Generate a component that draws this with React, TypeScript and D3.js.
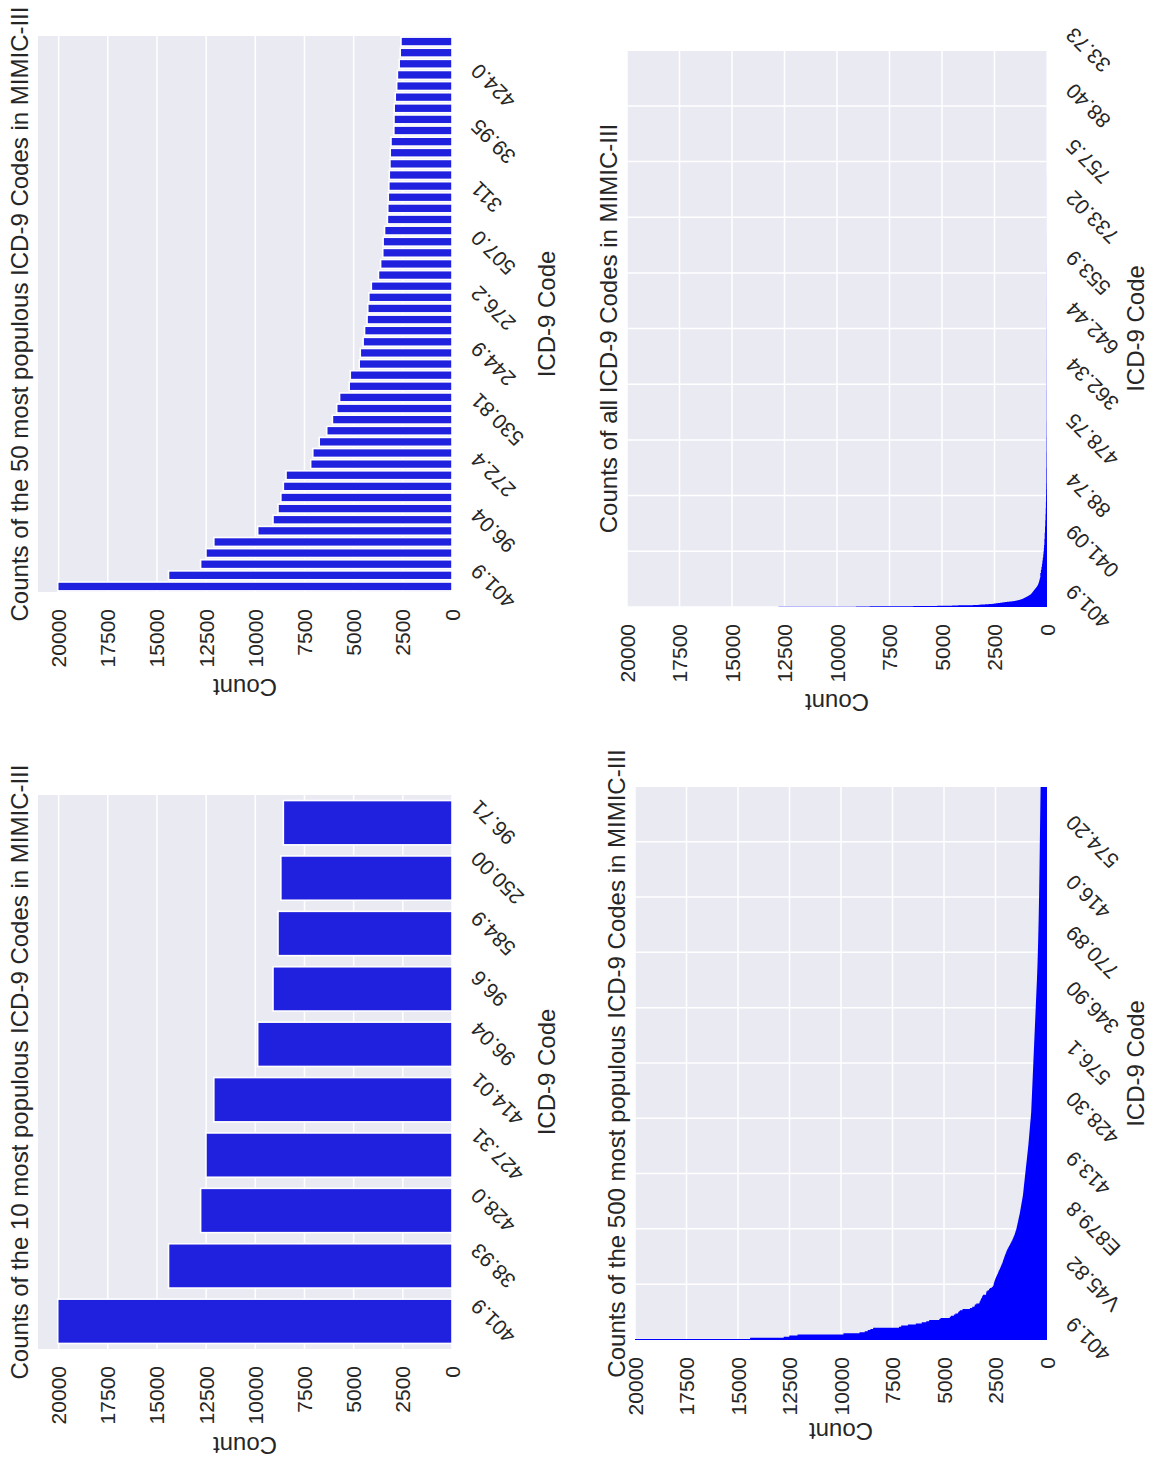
import React, { useRef, useEffect } from 'react';
import * as d3 from 'd3';

// ---- data ----
// 50 most frequent codes (only every 5th one is labelled on the chart)
const top50Codes = [
  '401.9', '38.93', '428.0', '427.31', '414.01', '96.04', '96.6', '584.9', '250.00', '96.71',
  '272.4', '518.81', '99.04', '599.0', '38.91', '530.81', '272.0', 'V05.3', 'V29.0', '285.9',
  '244.9', '88.56', '486', '99.15', '285.1', '276.2', '496', 'V58.61', '995.92', '96.72',
  '507.0', '038.9', '88.72', '403.90', 'V15.82', '311', '585.9', '305.1', '412', '287.5',
  '39.95', '410.71', '276.0', 'V45.81', '511.9', '424.0', '427.89', 'V30.00', '39.61', '99.55',
];
const top50Counts = [
  20046, 14413, 12781, 12509, 12110, 9880, 9101, 8847, 8702, 8575,
  8439, 7187, 7078, 6751, 6370, 6080, 5862, 5717, 5227, 5172,
  4719, 4664, 4519, 4446, 4319, 4283, 4229, 4102, 3739, 3630,
  3521, 3503, 3430, 3285, 3267, 3240, 3212, 3190, 3158, 3140,
  3103, 2958, 2950, 2940, 2886, 2813, 2777, 2686, 2632, 2595,
];
// ranks 51..500
const rank51to500Counts = [
  2590, 2575, 2560, 2541, 2522, 2500, 2478, 2455, 2430, 2406, 2380, 2361, 2339, 2310, 2284, 2260, 2241, 2220, 2196, 2172, 2150, 2133, 2118, 2097, 2079,
  2060, 2043, 2021, 1999, 1980, 1960, 1934, 1905, 1876, 1848, 1820, 1793, 1766, 1737, 1708, 1680, 1659, 1637, 1614, 1592, 1570, 1553, 1536, 1519, 1502,
  1486, 1474, 1461, 1450, 1438, 1426, 1414, 1403, 1391, 1380, 1368, 1357, 1345, 1333, 1322, 1311, 1302, 1293, 1284, 1274, 1265, 1255, 1246, 1237, 1228,
  1219, 1210, 1199, 1190, 1181, 1171, 1165, 1159, 1153, 1147, 1141, 1136, 1130, 1124, 1119, 1113, 1107, 1101, 1095, 1090, 1084, 1078, 1072, 1066, 1061,
  1055, 1049, 1043, 1037, 1032, 1026, 1020, 1014, 1008, 1002, 996, 990, 984, 978, 973, 967, 961, 955, 950, 944, 938, 932, 927, 921, 915,
  909, 904, 900, 895, 890, 886, 881, 876, 872, 867, 862, 858, 853, 848, 844, 839, 834, 830, 825, 820, 816, 811, 806, 802, 797,
  792, 788, 783, 778, 774, 769, 767, 764, 762, 760, 757, 755, 753, 750, 748, 746, 743, 741, 739, 736, 734, 732, 729, 727, 725,
  722, 720, 718, 715, 713, 711, 708, 706, 704, 701, 699, 697, 694, 692, 690, 687, 685, 683, 680, 678, 676, 673, 671, 669, 666,
  664, 662, 659, 657, 655, 652, 650, 648, 645, 643, 641, 638, 636, 634, 631, 629, 627, 624, 622, 620, 617, 615, 613, 610, 608,
  606, 603, 601, 599, 596, 594, 592, 589, 587, 585, 582, 580, 578, 575, 573, 571, 568, 566, 564, 561, 559, 557, 554, 552, 550,
  547, 545, 543, 540, 538, 536, 533, 531, 529, 526, 524, 522, 519, 517, 515, 512, 510, 508, 505, 503, 501, 498, 496, 494, 491,
  489, 487, 485, 483, 481, 479, 477, 475, 473, 471, 469, 467, 465, 463, 461, 460, 458, 457, 455, 454, 452, 451, 449, 448, 446,
  445, 443, 442, 440, 439, 437, 436, 434, 433, 431, 430, 429, 427, 426, 425, 424, 422, 421, 420, 419, 417, 416, 415, 414, 412,
  411, 410, 409, 407, 406, 405, 404, 403, 402, 401, 400, 399, 398, 397, 396, 395, 394, 393, 392, 391, 390, 389, 388, 387, 386,
  385, 384, 383, 383, 382, 381, 380, 379, 378, 378, 377, 376, 375, 374, 373, 373, 372, 371, 370, 369, 368, 368, 367, 366, 365,
  365, 364, 363, 363, 362, 361, 361, 360, 359, 358, 358, 357, 356, 356, 355, 354, 353, 353, 352, 351, 351, 350, 349, 348, 348,
  347, 347, 346, 345, 344, 344, 343, 342, 341, 341, 340, 339, 338, 338, 337, 336, 335, 334, 334, 333, 332, 331, 331, 330, 329,
  328, 328, 327, 326, 325, 325, 324, 323, 322, 322, 321, 320, 319, 319, 318, 317, 316, 316, 315, 314, 313, 313, 312, 311, 310,
];
const top500TickLabels = ['401.9', 'V45.82', 'E879.8', '413.9', '428.30', '576.1', '346.90', '770.89', '416.0', '574.20'];
// long tail after rank 500: [count, how many codes have about that count]
const tailRuns = [
  [320, 50], [290, 50], [265, 50], [240, 50], [220, 50], [200, 50], [180, 50], [165, 50], [150, 50], [140, 50],
  [125, 100], [110, 100], [95, 100], [82, 100], [70, 100], [60, 100], [52, 100], [45, 100], [40, 100], [35, 100],
  [30, 250], [24, 250], [19, 250], [15, 250],
  [12, 500], [9, 500], [7, 500], [5, 500], [4, 500], [3, 500],
  [2, 1000], [1, 1994],
];
const allTickLabels = ['401.9', '041.09', '88.74', '478.75', '362.34', '642.44', '553.9', '733.02', '757.5', '88.40', '33.73'];
const countTicks = [0, 2500, 5000, 7500, 10000, 12500, 15000, 17500, 20000];

const top10Codes = top50Codes.slice(0, 10);
const top10Counts = top50Counts.slice(0, 10);
const top500Counts = [...top50Counts, ...rank51to500Counts];
const allCounts = [...top500Counts, ...tailRuns.flatMap(([v, n]) => Array(n).fill(v))];

// ---- layout (figure drawn upright, then turned a quarter turn left) ----
const W = 1154, H = 1463;
const FONT = '"Liberation Sans", Arial, Helvetica, sans-serif';
const TEXT = '#262626';
const BG = '#eaeaf2';

const panels = [
  {
    title: 'Counts of the 10 most populous ICD-9 Codes in MIMIC-III',
    kind: 'bar', codes: top10Codes, values: top10Counts, labelEvery: 1,
    left: 114, right: 668, top: 38, bottom: 452, countGap: 88, xLabelGap: 103,
  },
  {
    title: 'Counts of the 50 most populous ICD-9 Codes in MIMIC-III',
    kind: 'bar', codes: top50Codes, values: top50Counts, labelEvery: 5,
    left: 871, right: 1427, top: 38, bottom: 452, countGap: 87, xLabelGap: 103,
  },
  {
    title: 'Counts of the 500 most populous ICD-9 Codes in MIMIC-III',
    kind: 'area', values: top500Counts, tickLabels: top500TickLabels,
    left: 123, right: 676, top: 635, bottom: 1047, countGap: 83, xLabelGap: 97,
  },
  {
    title: 'Counts of all ICD-9 Codes in MIMIC-III',
    kind: 'area', values: allCounts, tickLabels: allTickLabels,
    left: 856, right: 1413, top: 627, bottom: 1047, countGap: 87, xLabelGap: 97,
  },
];

function drawPanel(root: any, p: any) {
  const g = root.append('g');
  const yMax = p.kind === 'bar' ? d3.max(p.values as number[])! * 1.05 : 20000;
  const y = d3.scaleLinear().domain([0, yMax]).range([p.bottom, p.top]).clamp(true);

  g.append('rect')
    .attr('x', p.left).attr('y', p.top)
    .attr('width', p.right - p.left).attr('height', p.bottom - p.top)
    .attr('fill', BG);

  g.selectAll('.vgrid').data(countTicks).join('line')
    .attr('x1', p.left).attr('x2', p.right)
    .attr('y1', (d: number) => y(d)).attr('y2', (d: number) => y(d))
    .attr('stroke', '#fff').attr('stroke-width', 1.5);

  let ticks: { pos: number; label: string }[] = [];

  if (p.kind === 'bar') {
    const x = d3.scaleBand().domain(p.codes).range([p.left, p.right]).paddingInner(0.2).paddingOuter(0.1);
    g.selectAll('.bar').data(p.codes).join('rect')
      .attr('x', (d: string) => x(d)!)
      .attr('width', x.bandwidth())
      .attr('y', (_: string, i: number) => y(p.values[i]))
      .attr('height', (_: string, i: number) => p.bottom - y(p.values[i]))
      .attr('fill', '#2020df')
      .attr('stroke', '#fff').attr('stroke-width', 1.6);
    ticks = p.codes
      .map((c: string, i: number) => ({ c, i }))
      .filter((d: any) => d.i % p.labelEvery === 0)
      .map((d: any) => ({ pos: x(d.c)! + x.bandwidth() / 2, label: d.c }));
  } else {
    const n = p.values.length;
    const x = d3.scaleBand<number>().domain(d3.range(n)).range([p.left, p.right]).padding(0);
    const step = p.tickLabels.length > 10 ? Math.floor(n / 10) : 50;
    ticks = p.tickLabels.map((label: string, j: number) => ({ pos: x(j * step)! + x.bandwidth() / 2, label }));

    g.selectAll('.cgrid').data(ticks).join('line')
      .attr('x1', (d: any) => d.pos).attr('x2', (d: any) => d.pos)
      .attr('y1', p.top).attr('y2', p.bottom)
      .attr('stroke', '#fff').attr('stroke-width', 1.5);

    const pts = p.values.map((v: number, i: number) => [x(i)!, v]);
    pts.push([p.right, p.values[n - 1]]);
    const area = d3.area<number[]>()
      .x(d => d[0]).y0(p.bottom).y1(d => y(d[1]))
      .curve(d3.curveStepAfter);
    g.append('path').datum(pts).attr('d', area).attr('fill', '#0000ff');
  }

  // count axis tick labels
  g.selectAll('.ytick').data(countTicks).join('text')
    .attr('x', p.left - 17).attr('y', (d: number) => y(d))
    .attr('text-anchor', 'end').attr('dominant-baseline', 'central')
    .attr('font-size', 21)
    .text((d: number) => String(d));

  // category tick labels, turned 45 degrees, centred under the tick
  ticks.forEach(t => {
    const txt = g.append('text')
      .attr('text-anchor', 'middle').attr('dominant-baseline', 'central')
      .attr('font-size', 21).text(t.label);
    const w = (txt.node() as SVGTextElement).getComputedTextLength();
    const off = 15 + ((w + 21) * Math.SQRT1_2) / 2;
    txt.attr('transform', `translate(${t.pos},${p.bottom + off}) rotate(-45)`);
  });

  g.append('text')
    .attr('transform', `translate(${p.left - p.countGap},${(p.top + p.bottom) / 2}) rotate(-90)`)
    .attr('text-anchor', 'middle').attr('font-size', 24)
    .text('Count');

  g.append('text')
    .attr('x', (p.left + p.right) / 2).attr('y', p.bottom + p.xLabelGap)
    .attr('text-anchor', 'middle').attr('font-size', 24)
    .text('ICD-9 Code');

  g.append('text')
    .attr('x', (p.left + p.right) / 2).attr('y', p.top - 10)
    .attr('text-anchor', 'middle').attr('font-size', 24)
    .text(p.title);
}

export default function App() {
  const svgRef = useRef<SVGSVGElement>(null);

  useEffect(() => {
    const svg = d3.select(svgRef.current);
    svg.selectAll('*').remove();
    const root = svg.append('g')
      .attr('transform', `translate(0,${H}) rotate(-90)`)
      .attr('font-family', FONT)
      .attr('fill', TEXT);
    panels.forEach(p => drawPanel(root, p));
  }, []);

  return (
    <svg
      ref={svgRef}
      width={W}
      height={H}
      style={{ position: 'absolute', left: 0, top: 0, background: '#fff' }}
    />
  );
}
